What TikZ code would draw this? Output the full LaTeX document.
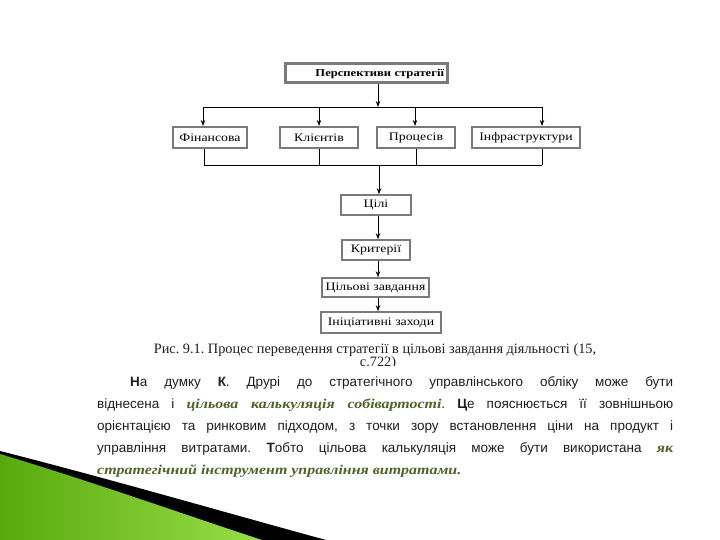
\documentclass[tikz,border=0pt]{standalone}
\usepackage{fontspec}
\setmainfont{Liberation Serif}
\newfontfamily\parfont{Liberation Sans}
\newfontfamily\grfont{Liberation Serif}[FakeStretch=1.18]
\newfontfamily\bxfont{Liberation Serif}[FakeStretch=1.2]
\usetikzlibrary{arrows.meta,calc}
\definecolor{boxgray}{HTML}{7A7A7A}
\definecolor{olivegreen}{HTML}{4F6228}
\definecolor{gdark}{HTML}{58AA0C}
\definecolor{glight}{HTML}{98DE48}
\definecolor{txt}{HTML}{1E1E1E}
\newcommand{\grtext}[1]{{\grfont\bfseries\itshape\color{olivegreen}#1}}
\begin{document}
\frenchspacing
\begin{tikzpicture}[x=1pt,y=-1pt,
  blk/.style={draw=boxgray, line width=2pt, fill=white, inner sep=0pt, text=black,
    font=\bxfont\fontsize{11.5}{13}\selectfont},
  topblk/.style={blk, line width=3pt, font=\bxfont\fontsize{10.5}{12}\selectfont\bfseries},
  colblk/.style={blk, line width=1.6pt},
  arr/.style={-{Stealth[length=6pt,width=4.5pt]}, line width=0.9pt},
  ln/.style={line width=0.9pt},
  partxt/.style={anchor=base west, inner sep=0pt, text=txt, font=\parfont\fontsize{13.5}{16}\selectfont},
  captxt/.style={inner sep=0pt, text=txt, font=\fontsize{14.3}{16}\selectfont}
]
\useasboundingbox (0,0) rectangle (720,540);
\fill[white] (0,0) rectangle (720,540);

% decoration bottom-left
\fill[black] (0,451) .. controls (110,479) and (220,511) .. (326,540) -- (0,540) -- cycle;
\shade[left color=gdark, right color=glight] (0,454) .. controls (90,481) and (180,513) .. (262,540) -- (0,540) -- cycle;

% boxes
\node[topblk, minimum width=162, minimum height=19, text width=156, align=right] (top) at (366,73.5) {Перспективи стратегії};
\node[blk, minimum width=74, minimum height=21] (fin) at (210,137.5) {Фінансова};
\node[blk, minimum width=78, minimum height=21] (cli) at (319,137.5) {Клієнтів};
\node[blk, minimum width=78, minimum height=21] (pro) at (416,137.5) {Процесів};
\node[blk, minimum width=108, minimum height=21] (inf) at (526,137.5) {Інфраструктури};
\node[colblk, minimum width=70, minimum height=20] (goal) at (376,205) {Цілі};
\node[colblk, minimum width=68, minimum height=20] (crit) at (376,250) {Критерії};
\node[colblk, minimum width=107, minimum height=19] (task) at (375.5,287.5) {Цільові завдання};
\node[colblk, minimum width=120, minimum height=21] (init) at (381,322.5) {Ініціативні заходи};

% top distribution
\coordinate (jt) at (378,107);
\coordinate (jl) at (203,107);
\coordinate (j2) at (319,107);
\coordinate (j3) at (415,107);
\coordinate (jr) at (542,107);
\draw[arr] (top.south -| jt) -- (jt);
\draw[ln] (jl) -- (jr);
\draw[arr] (jl) -- (jl |- fin.north);
\draw[arr] (j2) -- (j2 |- cli.north);
\draw[arr] (j3) -- (j3 |- pro.north);
\draw[arr] (jr) -- (jr |- inf.north);

% bottom collection
\coordinate (bl) at (204,165);
\coordinate (b2) at (319,165);
\coordinate (b3) at (416,165);
\coordinate (br) at (542,165);
\coordinate (bc) at (379,165);
\draw[ln] (fin.south -| bl) -- (bl);
\draw[ln] (cli.south -| b2) -- (b2);
\draw[ln] (pro.south -| b3) -- (b3);
\draw[ln] (inf.south -| br) -- (br);
\draw[ln] (bl) -- (br);
\draw[arr] (bc) -- (bc |- goal.north);

% column
\coordinate (ax) at (378,0);
\draw[arr] (goal.south -| ax) -- (crit.north -| ax);
\draw[arr] (crit.south -| ax) -- (task.north -| ax);
\draw[arr] (task.south -| ax) -- (init.north -| ax);

% caption
\node[captxt] (cap1) at (375,350) {Рис. 9.1. Процес переведення стратегії в цільові завдання діяльності (15,};
\begin{scope}
\clip (300,340) rectangle (460,365);
\node[captxt] (cap2) at (378,363) {с.722)};
\end{scope}

% paragraph
\node[partxt] (p1) at (130,386) {\makebox[543pt][s]{\textbf{Н}а думку \textbf{К}. Друрі до стратегічного управлінського обліку може бути}};
\node[partxt] (p2) at (97,408) {\makebox[576pt][s]{віднесена і \grtext{цільова калькуляція собівартості}. \textbf{Ц}е пояснюється її зовнішньою}};
\node[partxt] (p3) at (97,430) {\makebox[576pt][s]{орієнтацією та ринковим підходом, з точки зору встановлення ціни на продукт і}};
\node[partxt] (p4) at (97,452) {\makebox[576pt][s]{управління витратами. \textbf{Т}обто цільова калькуляція може бути використана \grtext{як}}};
\node[partxt] (p5) at (97,474) {\grtext{стратегічний інструмент управління витратами.}};
\end{tikzpicture}
\end{document}
